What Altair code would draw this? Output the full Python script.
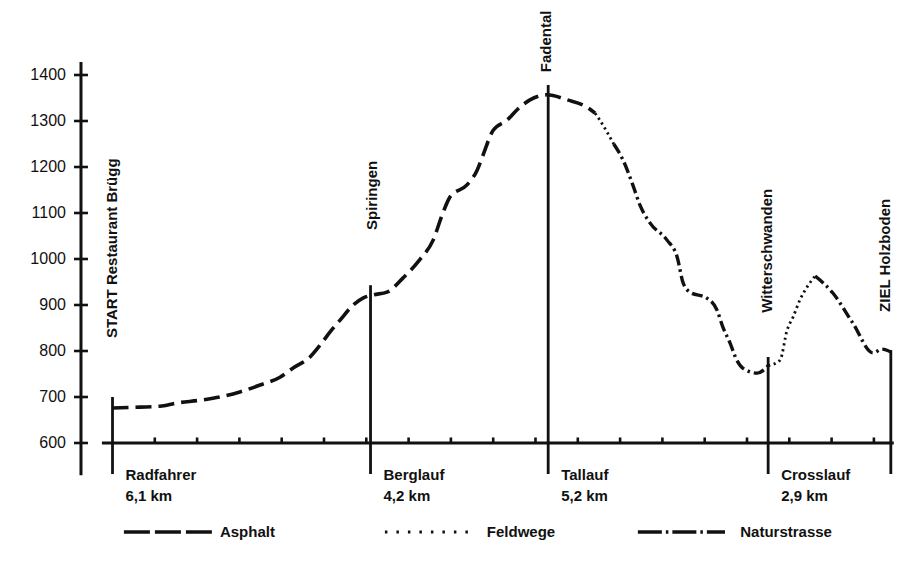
import altair as alt
import pandas as pd

# ---------------- data ----------------
# elevation profile: distance (km) and altitude (m)
profile_km = [0.0, 0.65, 1.12, 1.52, 2.07, 2.54, 3.01, 3.49, 3.96, 4.27, 4.67, 4.91, 5.14,
              5.38, 5.69, 5.92, 6.16, 6.49, 6.87, 7.26, 7.58, 7.81, 7.98, 8.38, 8.62, 8.76,
              9.00, 9.33, 9.56, 9.87, 10.27, 10.75, 11.22, 11.41, 11.52, 11.85, 12.07, 12.30,
              12.47, 12.71, 13.11, 13.35, 13.49, 13.65, 14.05, 14.29, 14.43, 14.60, 14.76,
              14.90, 15.24, 15.50, 15.78, 15.95, 16.09, 16.25, 16.42, 16.61, 17.03, 17.50,
              17.98, 18.19, 18.40]
profile_elev = [676, 678, 680, 687, 693, 700, 711, 726, 743, 763, 787, 813, 841,
                867, 900, 915, 922, 928, 959, 998, 1041, 1100, 1135, 1161, 1193, 1226,
                1280, 1302, 1324, 1346, 1357, 1346, 1330, 1317, 1302, 1250, 1215, 1161,
                1117, 1078, 1041, 1004, 948, 928, 915, 889, 852, 817, 780,
                763, 752, 768, 780, 846, 874, 911, 939, 963, 926, 861,
                796, 804, 798]
# road surface per stretch: (type, from km, to km)
surface_types = ["Asphalt", "Feldwege", "Naturstrasse", "Feldwege", "Naturstrasse"]
surface_from = [0.0, 11.41, 11.85, 15.50, 16.61]
surface_to = [11.41, 11.85, 15.50, 16.61, 18.40]

station_names = ["START Restaurant Brügg", "Spiringen", "Fadental", "Witterschwanden", "ZIEL Holzboden"]
station_km = [0.0, 6.1, 10.3, 15.5, 18.4]
station_top = [700, 943, 1378, 787, 802]
station_label_km = [0.0, 6.13, 10.25, 15.48, 18.27]
station_label_elev = [828, 1063, 1406, 883, 885]

leg_names = ["Radfahrer", "Berglauf", "Tallauf", "Crosslauf"]
leg_lengths = ["6,1 km", "4,2 km", "5,2 km", "2,9 km"]
leg_start_km = [0.0, 6.1, 10.3, 15.5]

y_ticks = [600, 700, 800, 900, 1000, 1100, 1200, 1300, 1400]
x_ticks = list(range(1, 19))

legend_labels = ["Asphalt", "Feldwege", "Naturstrasse"]
legend_from = [0.27, 6.44, 12.42]
legend_to = [2.35, 8.52, 14.48]
legend_text_km = [2.54, 8.85, 14.84]

# ---------------- layout helpers ----------------
X_DOMAIN = [-2.4704, 18.4752]
Y_DOMAIN = [350, 1545.65]
AXIS_KM = -0.745
BASE_ELEV = 600
LINE_BOTTOM = 532.6
INK = "#111111"
FONT = "Liberation Sans"

xs = alt.Scale(domain=X_DOMAIN, nice=False, zero=False)
ys = alt.Scale(domain=Y_DOMAIN, nice=False, zero=False)


def X(f="x"):
    return alt.X(f"{f}:Q", scale=xs, axis=None)


def Y(f="y"):
    return alt.Y(f"{f}:Q", scale=ys, axis=None)


# profile rows split into surface stretches
rows = []
for i, (t, a, b) in enumerate(zip(surface_types, surface_from, surface_to)):
    for k, e in zip(profile_km, profile_elev):
        if a - 1e-9 <= k <= b + 1e-9:
            rows.append({"seg": i, "type": t, "x": k, "y": e})
profile = pd.DataFrame(rows)

styles = {
    "Asphalt": dict(strokeDash=[16, 7], strokeWidth=3.6),
    "Feldwege": dict(strokeDash=[2.2, 3.5], strokeWidth=2.8),
    "Naturstrasse": dict(strokeDash=[11, 4, 2.5, 4], strokeWidth=3.4),
}
legend_dash = {
    "Asphalt": [26, 5],
    "Feldwege": [2.5, 9],
    "Naturstrasse": [24, 4, 2.5, 4],
}

layers = []

# y axis
yaxis_df = pd.DataFrame({"x": [AXIS_KM], "y": [530], "y2": [1428]})
layers.append(alt.Chart(yaxis_df).mark_rule(color=INK, strokeWidth=3).encode(
    x=X(), y=Y(), y2="y2:Q"))
ytick_df = pd.DataFrame({"y": y_ticks, "x": [AXIS_KM - 0.165] * len(y_ticks),
                         "x2": [AXIS_KM + 0.165] * len(y_ticks),
                         "lx": [-1.10] * len(y_ticks)})
layers.append(alt.Chart(ytick_df).mark_rule(color=INK, strokeWidth=2.6).encode(
    x=X(), x2="x2:Q", y=Y()))
layers.append(alt.Chart(ytick_df).mark_text(
    align="right", baseline="middle", fontSize=16, font=FONT, color=INK).encode(
    x=X("lx"), y=Y(), text=alt.Text("y:Q", format="d")))

# x axis
xaxis_df = pd.DataFrame({"x": [-0.25], "x2": [18.47], "y": [BASE_ELEV]})
layers.append(alt.Chart(xaxis_df).mark_rule(color=INK, strokeWidth=3).encode(
    x=X(), x2="x2:Q", y=Y()))
xtick_df = pd.DataFrame({"x": x_ticks, "y": [BASE_ELEV] * len(x_ticks),
                         "y2": [BASE_ELEV + 12] * len(x_ticks)})
layers.append(alt.Chart(xtick_df).mark_rule(color=INK, strokeWidth=2.6).encode(
    x=X(), y=Y(), y2="y2:Q"))

# station vertical lines and names
st_df = pd.DataFrame({"x": station_km, "y": [LINE_BOTTOM] * 5, "y2": station_top,
                      "lx": station_label_km, "ly": station_label_elev, "name": station_names})
layers.append(alt.Chart(st_df).mark_rule(color=INK, strokeWidth=2.8).encode(
    x=X(), y=Y(), y2="y2:Q"))
layers.append(alt.Chart(st_df).mark_text(
    angle=270, align="left", baseline="middle", fontSize=15, fontWeight="bold",
    font=FONT, color=INK).encode(x=X("lx"), y=Y("ly"), text="name:N"))

# leg names and lengths
leg_df = pd.DataFrame({"x": leg_start_km, "name": leg_names, "len": leg_lengths,
                       "y1": [530] * 4, "y2": [485] * 4})
layers.append(alt.Chart(leg_df).mark_text(
    align="left", baseline="middle", dx=13, fontSize=15, fontWeight="bold",
    font=FONT, color=INK).encode(x=X(), y=Y("y1"), text="name:N"))
layers.append(alt.Chart(leg_df).mark_text(
    align="left", baseline="middle", dx=13, fontSize=15, fontWeight="bold",
    font=FONT, color=INK).encode(x=X(), y=Y("y2"), text="len:N"))

# profile
for t, st in styles.items():
    layers.append(alt.Chart(profile[profile["type"] == t]).mark_line(
        color=INK, interpolate="monotone", strokeCap="butt", **st).encode(
        x=X(), y=Y(), detail="seg:N", order="x:Q"))

# legend
for lab, a, b, tx in zip(legend_labels, legend_from, legend_to, legend_text_km):
    ldf = pd.DataFrame({"x": [a], "x2": [b], "y": [406.5], "tx": [tx], "label": [lab]})
    layers.append(alt.Chart(ldf).mark_rule(
        color=INK, strokeWidth=styles[lab]["strokeWidth"],
        strokeDash=legend_dash[lab]).encode(x=X(), x2="x2:Q", y=Y()))
    layers.append(alt.Chart(ldf).mark_text(
        align="left", baseline="middle", fontSize=15, fontWeight="bold",
        font=FONT, color=INK).encode(x=X("tx"), y=Y(), text="label:N"))

chart = alt.layer(*layers).properties(
    width=886, height=550,
    autosize=alt.AutoSizeParams(type="none"),
    padding=0,
    background="white",
).configure_view(stroke=None)

chart.save("out.html", embed_options={"renderer": "svg", "actions": False})
